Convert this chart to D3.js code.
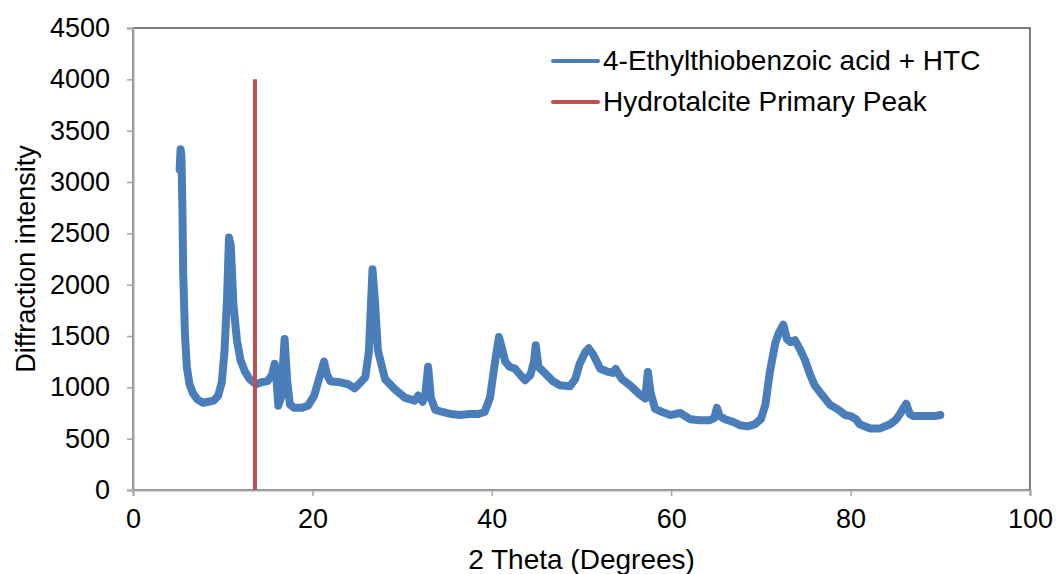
<!DOCTYPE html>
<html>
<head>
<meta charset="utf-8">
<script src="https://cdn.jsdelivr.net/npm/d3@7"></script>
<style>
  html, body { margin: 0; padding: 0; background: #fff; }
  svg { display: block; font-family: "Liberation Sans", Arial, sans-serif; }
</style>
</head>
<body>
<svg id="chart" width="1056" height="574"></svg>
<script>
// ---- Data ----
const seriesName = "4-Ethylthiobenzoic acid + HTC";
const peakName = "Hydrotalcite Primary Peak";

const twoTheta = [5.2, 5.3, 5.4, 5.5, 5.6, 5.8, 6.0, 6.3, 6.7, 7.2, 7.8, 8.4, 9.0, 9.5, 9.9, 10.2, 10.5, 10.7, 10.9, 11.2, 11.6, 12.0, 12.5, 13.0, 13.7, 14.3, 15.0, 15.5, 15.8, 16.0, 16.2, 16.5, 16.9, 17.2, 17.5, 18.0, 18.8, 19.5, 20.2, 20.6, 21.0, 21.3, 21.6, 22.0, 23.0, 24.0, 24.7, 25.3, 25.9, 26.3, 26.7, 27.0, 27.3, 28.1, 29.2, 30.3, 31.4, 31.8, 32.3, 32.6, 32.9, 33.2, 33.7, 34.5, 35.5, 36.5, 37.5, 38.5, 39.2, 39.8, 40.2, 40.5, 40.8, 41.1, 41.5, 42.0, 42.6, 43.2, 43.7, 44.3, 44.7, 44.9, 45.2, 45.9, 46.8, 47.6, 48.7, 49.3, 49.8, 50.4, 50.8, 51.3, 52.1, 53.0, 53.5, 53.8, 54.5, 55.4, 56.5, 57.1, 57.4, 57.7, 58.2, 59.0, 59.9, 61.0, 62.1, 63.2, 64.3, 64.8, 65.1, 65.4, 66.0, 67.0, 67.7, 68.5, 69.3, 70.0, 70.5, 71.0, 71.6, 72.0, 72.5, 72.9, 73.3, 73.8, 74.3, 74.9, 75.5, 76.0, 76.6, 77.7, 78.5, 79.4, 80.0, 80.6, 81.0, 82.2, 83.3, 84.4, 85.0, 85.5, 85.9, 86.2, 86.6, 87.0, 87.7, 88.5, 89.4, 90.0];
const intensity = [3120, 3320, 3260, 2800, 2100, 1500, 1200, 1030, 940, 880, 850, 860, 870, 920, 1050, 1350, 1900, 2460, 2380, 1800, 1450, 1260, 1150, 1080, 1030, 1050, 1060, 1120, 1230, 1080, 820, 900, 1470, 1050, 830, 800, 800, 820, 920, 1040, 1160, 1250, 1130, 1060, 1050, 1030, 990, 1040, 1100, 1350, 2150, 1800, 1360, 1080, 980, 900, 870, 920, 860, 940, 1200, 900, 780, 760, 740, 730, 740, 740, 760, 900, 1150, 1330, 1490, 1390, 1250, 1200, 1180, 1120, 1070, 1120, 1250, 1410, 1200, 1140, 1060, 1020, 1010, 1080, 1230, 1340, 1380, 1320, 1180, 1150, 1140, 1180, 1080, 1020, 930, 890, 1150, 950, 790, 760, 730, 750, 690, 680, 680, 700, 800, 720, 690, 660, 630, 620, 640, 690, 830, 1150, 1430, 1530, 1610, 1470, 1440, 1460, 1380, 1270, 1120, 1020, 950, 830, 790, 730, 720, 690, 640, 600, 600, 640, 680, 740, 800, 840, 740, 720, 720, 720, 720, 730];

const peakPos = [13.6, 13.6];
const peakVals = [0, 4000];

const xTicks = [0, 20, 40, 60, 80, 100];
const yTicks = [0, 500, 1000, 1500, 2000, 2500, 3000, 3500, 4000, 4500];
const xTitle = "2 Theta (Degrees)";
const yTitle = "Diffraction intensity";

// ---- Layout ----
const svg = d3.select("#chart");
const plot = { left: 133, right: 1030, top: 28, bottom: 490 };
const blue = "#4A7EBB", red = "#C0504D", axisGray = "#A6A6A6";
const fontSize = 27;

const x = d3.scaleLinear().domain([0, 100]).range([plot.left, plot.right]);
const y = d3.scaleLinear().domain([0, 4500]).range([plot.bottom, plot.top]);

// plot frame (top & right)
svg.append("rect")
  .attr("x", plot.left).attr("y", plot.top)
  .attr("width", plot.right - plot.left).attr("height", plot.bottom - plot.top)
  .attr("fill", "none").attr("stroke", "#000").attr("stroke-width", 1);

// axes
const xAxis = svg.append("g").attr("transform", `translate(0,${plot.bottom})`)
  .call(d3.axisBottom(x).tickValues(xTicks).tickSize(6).tickPadding(13).tickFormat(d3.format("d")));
const yAxis = svg.append("g").attr("transform", `translate(${plot.left},0)`)
  .call(d3.axisLeft(y).tickValues(yTicks).tickSize(6).tickPadding(17).tickFormat(d3.format("d")));
[xAxis, yAxis].forEach(g => {
  g.select(".domain").attr("stroke", axisGray).attr("stroke-width", 2);
  g.selectAll(".tick line").attr("stroke", axisGray).attr("stroke-width", 1.5);
  g.selectAll(".tick text").attr("fill", "#000").attr("font-size", fontSize)
    .attr("font-family", "'Liberation Sans', Arial, sans-serif");
});

// series line
const pts = twoTheta.map((t, i) => [t, intensity[i]]);
svg.append("path")
  .datum(pts)
  .attr("fill", "none")
  .attr("stroke", blue)
  .attr("stroke-width", 8)
  .attr("stroke-linejoin", "round")
  .attr("stroke-linecap", "round")
  .attr("d", d3.line().x(d => x(d[0])).y(d => y(d[1])));

// hydrotalcite peak marker
svg.append("path")
  .datum(peakPos.map((p, i) => [p, peakVals[i]]))
  .attr("fill", "none")
  .attr("stroke", red)
  .attr("stroke-width", 4)
  .attr("d", d3.line().x(d => x(d[0])).y(d => y(d[1])));

// axis titles
svg.append("text")
  .attr("x", (plot.left + plot.right) / 2).attr("y", 569)
  .attr("text-anchor", "middle").attr("font-size", fontSize + 1).attr("fill", "#000")
  .text(xTitle);
svg.append("text")
  .attr("transform", `translate(35,${(plot.top + plot.bottom) / 2}) rotate(-90)`)
  .attr("text-anchor", "middle").attr("font-size", fontSize).attr("fill", "#000")
  .text(yTitle);

// legend
const legend = [
  { name: seriesName, color: blue, yy: 61 },
  { name: peakName, color: red, yy: 102 }
];
legend.forEach(l => {
  svg.append("line").attr("x1", 553).attr("x2", 598).attr("y1", l.yy).attr("y2", l.yy)
    .attr("stroke", l.color).attr("stroke-width", 4).attr("stroke-linecap", "round");
  svg.append("text").attr("x", 603).attr("y", l.yy + 9)
    .attr("font-size", fontSize + 1).attr("fill", "#000").text(l.name);
});
</script>
</body>
</html>
